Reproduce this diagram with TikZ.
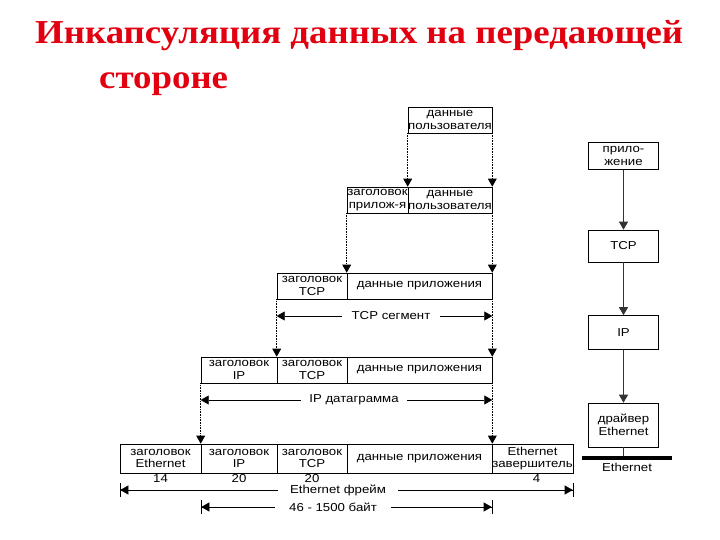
\documentclass[tikz,border=0pt]{standalone}
\usepackage{fontspec}
\setmainfont{Liberation Sans}[FakeStretch=1.15]
\newfontfamily\titlefont{Liberation Serif}[FakeStretch=1.1]
\usetikzlibrary{arrows.meta}
\definecolor{titlered}{RGB}{226,0,16}

\begin{document}
\begin{tikzpicture}[x=1pt,y=-1pt]
        \tikzset{
          cell/.style={draw,line width=0.6pt,inner sep=0pt,minimum height=26pt,
            align=center,font=\fontsize{11.5}{12.8}\selectfont},
          layer/.style={cell,minimum width=70pt},
          dotarrow/.style={densely dotted,line width=0.6pt,-{Triangle[length=8pt,width=9pt,line width=0pt]}},
          solidarrow/.style={black!80,line width=1pt,-{Triangle[length=8pt,width=9pt]}},
          dimline/.style={line width=0.6pt,{Triangle[length=8pt,width=9pt]}-{Triangle[length=8pt,width=9pt]}},
          barline/.style={line width=0.6pt,{Bar[width=14pt]Triangle[length=8pt,width=9pt]}-{Triangle[length=8pt,width=9pt]Bar[width=14pt]}},
          dimlabel/.style={fill=white,inner xsep=6pt,inner ysep=1pt,font=\fontsize{11.5}{12}\selectfont},
          size/.style={inner sep=1pt,font=\fontsize{11.5}{12}\selectfont}
        }
        \useasboundingbox (0,0) rectangle (720,540);
        %TITLE
        \node[anchor=base west,inner sep=0pt,text=titlered,font=\titlefont\bfseries\fontsize{33.5}{33}\selectfont] (title1) at (35,44) {Инкапсуляция данных на передающей};
        \node[anchor=base west,inner sep=0pt,text=titlered,font=\titlefont\bfseries\fontsize{33.5}{33}\selectfont] (title2) at (99,89) {стороне};

        %ROW 1
        \node[cell,minimum width=84pt] (ud1) at (450,120) {данные\\пользователя};
        %ROW 2
        \node[cell,minimum width=61pt] (ah2) at (377.5,200) {заголовок\\прилож-я};
        \node[cell,minimum width=84pt] (ud2) at (450,200) {данные\\пользователя};
        %ROW 3
        \node[cell,minimum width=70pt] (th3) at (312,286) {заголовок\\TCP};
        \node[cell,minimum width=145pt] (ad3) at (419.5,286) {данные приложения};
        %ROW 4
        \node[cell,minimum width=76pt] (ih4) at (239,370) {заголовок\\IP};
        \node[cell,minimum width=70pt] (th4) at (312,370) {заголовок\\TCP};
        \node[cell,minimum width=145pt] (ad4) at (419.5,370) {данные приложения};
        %ROW 5
        \node[cell,minimum width=81pt,minimum height=29pt] (eh5) at (160.5,458.5) {заголовок\\Ethernet};
        \node[cell,minimum width=76pt,minimum height=29pt] (ih5) at (239,458.5) {заголовок\\IP};
        \node[cell,minimum width=70pt,minimum height=29pt] (th5) at (312,458.5) {заголовок\\TCP};
        \node[cell,minimum width=145pt,minimum height=29pt] (ad5) at (419.5,458.5) {данные приложения};
        \node[cell,minimum width=81pt,minimum height=29pt] (et5) at (532.5,458.5) {Ethernet\\завершитель};

        %DOTTED ARROWS
        \draw[dotarrow] (ud1.south west) -- (ud2.north west);
        \draw[dotarrow] (ud1.south east) -- (ud2.north east);
        \draw[dotarrow] (ah2.south west) -- (ad3.north west);
        \draw[dotarrow] (ud2.south east) -- (ad3.north east);
        \draw[dotarrow] (th3.south west) -- (th4.north west);
        \draw[dotarrow] (ad3.south east) -- (ad4.north east);
        \draw[dotarrow] (ih4.south west) -- (ih5.north west);
        \draw[dotarrow] (ad4.south east) -- (ad5.north east);

        %SIZES
        \node[size,anchor=north] (n14) at (eh5.south) {14};
        \node[size,anchor=north] (n20a) at (ih5.south) {20};
        \node[size,anchor=north] (n20b) at (th5.south) {20};
        \node[size,anchor=north] (n4) at ([xshift=4pt]et5.south) {4};

        %SPANS
        \coordinate (segy) at (391,316);
        \draw[dimline] (th3.south west |- segy) -- (ad3.south east |- segy);
        \node[dimlabel,inner xsep=10pt] (seg) at (segy) {TCP сегмент};
        \coordinate (dgy) at (354,400);
        \draw[dimline] (ih4.south west |- dgy) -- (ad4.south east |- dgy);
        \node[dimlabel,inner xsep=8pt] (dg) at (dgy) {IP датаграмма};
        \coordinate (fry) at (338,490);
        \draw[barline] (eh5.south west |- fry) -- (et5.south east |- fry);
        \node[dimlabel,inner xsep=12pt] (fr) at (fry) {Ethernet фрейм};
        \coordinate (ply) at (333,507);
        \draw[barline] (ih5.south west |- ply) -- (ad5.south east |- ply);
        \node[dimlabel,inner xsep=14pt] (pl) at (ply) {46 - 1500 байт};

        %STACK
        \node[layer,minimum height=27pt] (app) at (623.5,156) {прило-\\жение};
        \node[layer,minimum height=32pt] (tcp) at (623.5,246) {TCP};
        \node[layer,minimum height=34pt] (ip) at (623.5,332.5) {IP};
        \node[layer,minimum height=44pt] (drv) at (623.5,425) {драйвер\\Ethernet};
        \draw[solidarrow] (app) -- (tcp);
        \draw[solidarrow] (tcp) -- (ip);
        \draw[solidarrow] (ip) -- (drv);
        \coordinate (busl) at (582,458);
        \coordinate (busr) at (672,458);
        \draw[black!80,line width=1pt] (drv.south) -- (drv.south |- busl);
        \draw[line width=4pt] (busl) -- (busr);
        \node[size] (bus) at (627,467) {Ethernet};
\end{tikzpicture}
\end{document}
